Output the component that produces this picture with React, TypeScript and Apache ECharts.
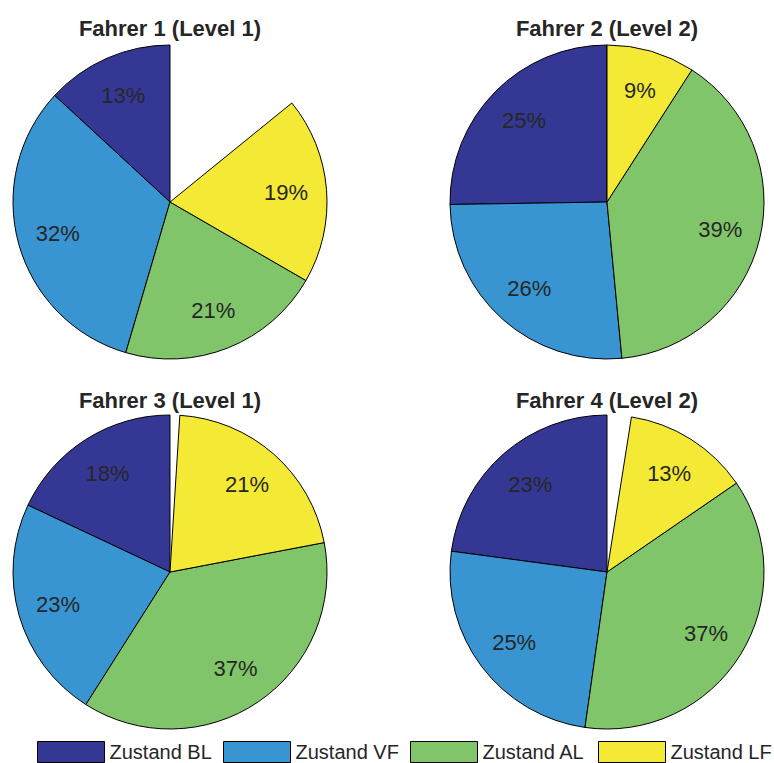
import { useEffect, useRef } from "react";
import * as echarts from "echarts";

// Driving-state shares (percent) per driver
const states = ["Zustand BL", "Zustand VF", "Zustand AL", "Zustand LF"];
const stateColors = ["#343894", "#3995d1", "#81c56a", "#f4ea35"];
const titles = ["Fahrer 1 (Level 1)", "Fahrer 2 (Level 2)", "Fahrer 3 (Level 1)", "Fahrer 4 (Level 2)"];
const fahrer1 = [13, 32, 21, 19];
const fahrer2 = [25, 26, 39, 9];
const fahrer3 = [18, 23, 37, 21];
const fahrer4 = [23, 25, 37, 13];
// Share of time not assigned to any state (left empty in the pie)
const unassigned = [14, 0, 1, 2.5];

const FONT = '"Liberation Sans", Arial, Helvetica, sans-serif';
const TEXT = "#262626";
const R = 157;
const LABEL_R0 = 70;
const centers: [number, number][] = [
  [170, 202],
  [607, 202],
  [170, 572],
  [607, 572],
];
const titleY = [28, 28, 400, 400];
const legendLeft = [37, 223, 410, 598];

function pieData(values: number[], rest: number, overlay: boolean) {
  const data: any[] = values.map((v, i) => ({
    name: states[i],
    value: v,
    itemStyle: overlay
      ? { color: "rgba(0,0,0,0)", borderWidth: 0 }
      : { color: stateColors[i] },
  }));
  if (rest > 0) {
    data.push({
      name: "rest",
      value: rest,
      itemStyle: { color: "rgba(0,0,0,0)", borderWidth: 0 },
      label: { show: false },
    });
  }
  return data;
}

export default function App() {
  const ref = useRef<HTMLDivElement>(null);

  useEffect(() => {
    if (!ref.current) return;
    const chart = echarts.init(ref.current, undefined, { renderer: "svg" });
    const all = [fahrer1, fahrer2, fahrer3, fahrer4];

    const series: any[] = [];
    all.forEach((values, k) => {
      series.push({
        type: "pie",
        center: centers[k],
        radius: [0, R],
        startAngle: 90,
        clockwise: false,
        silent: true,
        label: { show: false },
        labelLine: { show: false },
        itemStyle: { borderColor: "#000", borderWidth: 1 },
        data: pieData(values, unassigned[k], false),
      });
      // transparent ring used only to place the percentage labels
      series.push({
        type: "pie",
        center: centers[k],
        radius: [LABEL_R0, R],
        startAngle: 90,
        clockwise: false,
        silent: true,
        labelLine: { show: false },
        label: {
          show: true,
          position: "inside",
          formatter: "{c}%",
          fontSize: 22,
          fontFamily: FONT,
          color: TEXT,
        },
        data: pieData(values, unassigned[k], true),
      });
    });

    // one legend per state so each entry sits at its own position
    const legend = states.map((s, i) => ({
      data: [s],
      left: legendLeft[i],
      top: 741,
      padding: 0,
      itemWidth: 67,
      itemHeight: 21,
      icon: "rect",
      selectedMode: false,
      itemStyle: { borderColor: "#000", borderWidth: 1 },
      textStyle: { fontSize: 20, fontFamily: FONT, color: TEXT },
    }));

    chart.setOption({
      animation: false,
      backgroundColor: "#fff",
      legend,
      graphic: titles.map((t, k) => ({
        type: "text",
        x: centers[k][0],
        y: titleY[k],
        style: {
          text: t,
          textAlign: "center",
          textVerticalAlign: "middle",
          font: `bold 22px ${FONT}`,
          fill: TEXT,
        },
      })),
      series,
    });

    return () => chart.dispose();
  }, []);

  return (
    <div
      ref={ref}
      style={{ position: "absolute", left: 0, top: 0, width: 774, height: 763 }}
    />
  );
}
